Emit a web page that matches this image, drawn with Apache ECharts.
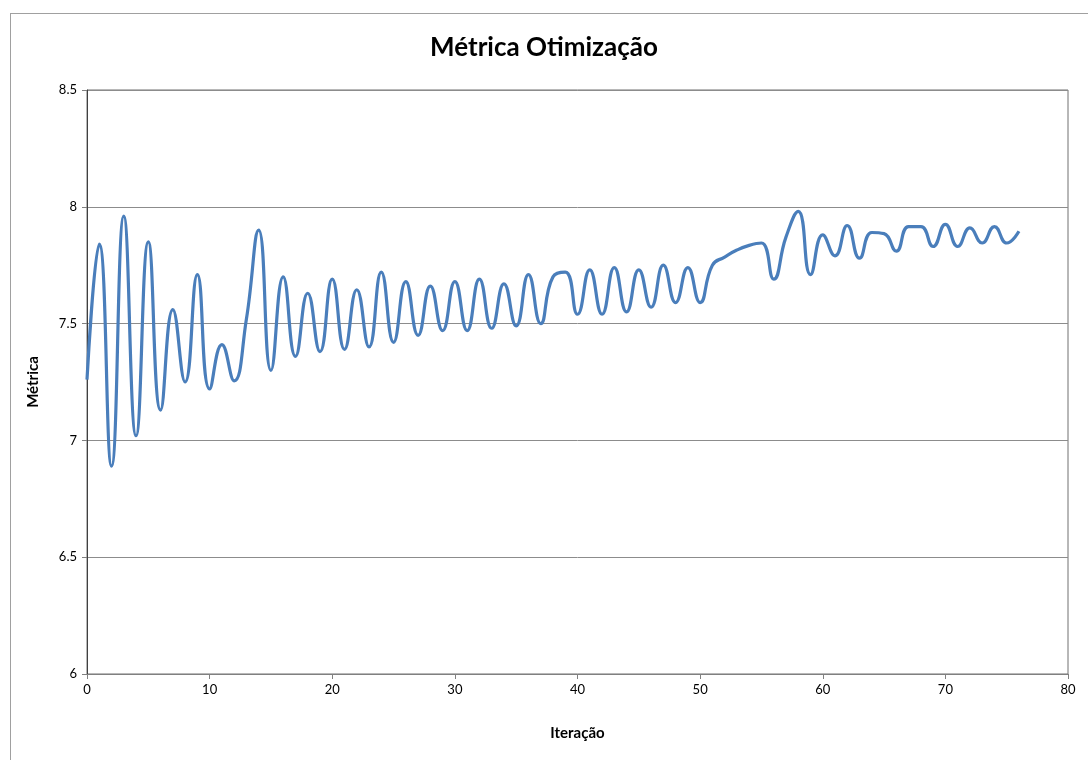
<!DOCTYPE html>
<html>
<head>
<meta charset="utf-8">
<script src="https://cdn.jsdelivr.net/npm/echarts@6/dist/echarts.min.js"></script>
<style>
html,body{margin:0;padding:0;background:#fff;}
#frame{position:absolute;left:10px;top:13px;width:1100px;height:800px;border:1px solid #a0a0a0;box-sizing:border-box;}
#chart{position:absolute;left:0;top:0;width:1088px;height:760px;}
</style>
</head>
<body>
<div id="frame"></div>
<div id="chart"></div>
<script>
const titleText = "Métrica Otimização";
const xAxisName = "Iteração";
const yAxisName = "Métrica";
const iterations = [0,1,2,3,4,5,6,7,8,9,10,11,12,13,14,15,16,17,18,19,20,21,22,23,24,25,26,27,28,29,30,31,32,33,34,35,36,37,38,39,40,41,42,43,44,45,46,47,48,49,50,51,52,53,54,55,56,57,58,59,60,61,62,63,64,65,66,67,68,69,70,71,72,73,74,75,76];
const metric = [7.26,7.84,6.89,7.96,7.02,7.85,7.13,7.56,7.25,7.71,7.22,7.41,7.255,7.52,7.90,7.30,7.70,7.36,7.63,7.38,7.69,7.39,7.645,7.40,7.72,7.42,7.68,7.45,7.66,7.47,7.68,7.47,7.69,7.48,7.67,7.49,7.71,7.50,7.70,7.72,7.54,7.73,7.54,7.74,7.55,7.73,7.57,7.75,7.59,7.74,7.59,7.75,7.785,7.815,7.835,7.845,7.69,7.87,7.98,7.71,7.88,7.79,7.92,7.78,7.89,7.885,7.81,7.915,7.915,7.83,7.925,7.83,7.91,7.845,7.915,7.845,7.895];
const xTicks = {min:0, max:80, interval:10};
const yTicks = {min:6, max:8.5, interval:0.5};

const chart = echarts.init(document.getElementById('chart'), null, {renderer:'canvas'});
const font = 'Lato, "Open Sans", sans-serif';
chart.setOption({
  animation:false,
  backgroundColor:'transparent',
  title:{text:titleText,left:'center',top:30,textStyle:{fontFamily:font,fontSize:26,fontWeight:'bold',color:'#000'}},
  grid:{left:87,top:90,width:981,height:584,show:true,borderColor:'#707070',borderWidth:1,backgroundColor:'transparent'},
  xAxis:{type:'value',min:xTicks.min,max:xTicks.max,interval:xTicks.interval,
    name:xAxisName,nameLocation:'middle',nameGap:52,
    nameTextStyle:{fontFamily:font,fontSize:15,fontWeight:'bold',color:'#000'},
    axisLine:{show:true,lineStyle:{color:'#808080',width:1}},
    axisTick:{show:true,inside:false,length:5,lineStyle:{color:'#808080'}},
    axisLabel:{fontFamily:font,fontSize:13,color:'#000',margin:9},
    splitLine:{show:false}},
  yAxis:{type:'value',min:yTicks.min,max:yTicks.max,interval:yTicks.interval,
    name:yAxisName,nameLocation:'middle',nameGap:46,
    nameTextStyle:{fontFamily:font,fontSize:15,fontWeight:'bold',color:'#000'},
    axisLine:{show:true,lineStyle:{color:'#404040',width:1}},
    axisTick:{show:true,inside:false,length:5,lineStyle:{color:'#808080'}},
    axisLabel:{fontFamily:font,fontSize:13,color:'#000',margin:10,formatter:v=>String(v)},
    splitLine:{show:true,lineStyle:{color:'#8c8c8c',width:1}}},
  series:[{type:'line',data:iterations.map((x,i)=>[x,metric[i]]),smooth:0.5,showSymbol:false,
    lineStyle:{color:'#4A7EBB',width:3.2},itemStyle:{color:'#4A7EBB'}}]
});
</script>
</body>
</html>
